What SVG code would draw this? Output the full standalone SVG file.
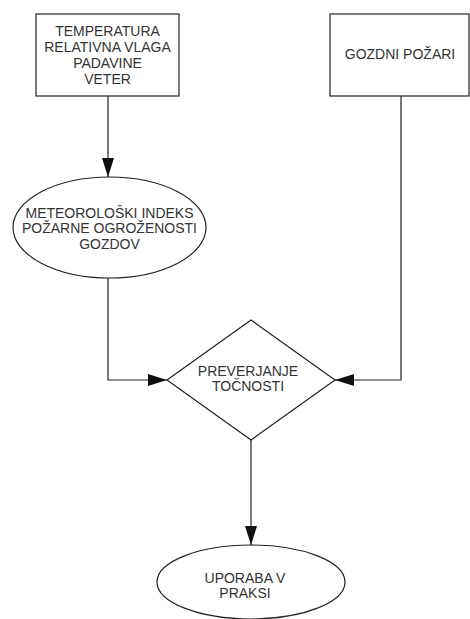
<svg xmlns="http://www.w3.org/2000/svg" width="470" height="619" viewBox="0 0 470 619">
<defs>
<style>
.shape{fill:#fff;stroke:#222;stroke-width:1.2}
.line{fill:none;stroke:#222;stroke-width:1.2}
text{font-family:"Liberation Sans",Arial,sans-serif;font-size:14px;fill:#333;text-anchor:middle}
</style>
<marker id="arr" markerWidth="20" markerHeight="12" refX="19" refY="6" orient="auto" markerUnits="userSpaceOnUse">
<path d="M0,0 L19,6 L0,12 Z" fill="#111"/>
</marker>
</defs>
<rect width="470" height="619" fill="#fff"/>
<g id="connectors">
<path class="line" d="M108,96 L108,177" marker-end="url(#arr)"/>
<path class="line" d="M108,278 L108,380 L167,380" marker-end="url(#arr)"/>
<path class="line" d="M401,96 L401,380 L335,380" marker-end="url(#arr)"/>
<path class="line" d="M251,440 L251,545" marker-end="url(#arr)"/>
</g>
<g id="node-inputs">
<rect class="shape" x="36" y="14" width="143" height="82"/>
<text x="107.5" y="36">TEMPERATURA</text>
<text x="107.5" y="52">RELATIVNA VLAGA</text>
<text x="107.5" y="68">PADAVINE</text>
<text x="107.5" y="84">VETER</text>
</g>
<g id="node-pozari">
<rect class="shape" x="330" y="14" width="139" height="82"/>
<text x="400" y="59">GOZDNI POŽARI</text>
</g>
<g id="node-indeks">
<ellipse class="shape" cx="109.5" cy="227.5" rx="96.5" ry="50.5"/>
<text x="109.5" y="217.5">METEOROLOŠKI INDEKS</text>
<text x="109.5" y="233">POŽARNE OGROŽENOSTI</text>
<text x="109.5" y="248.5">GOZDOV</text>
</g>
<g id="node-preverjanje">
<polygon class="shape" points="251,320 335,380 251,440 167,380"/>
<text x="248" y="376">PREVERJANJE</text>
<text x="248" y="391">TOČNOSTI</text>
</g>
<g id="node-uporaba">
<ellipse class="shape" cx="251" cy="582" rx="94" ry="37"/>
<text x="245" y="583">UPORABA V</text>
<text x="245" y="598">PRAKSI</text>
</g>
</svg>
